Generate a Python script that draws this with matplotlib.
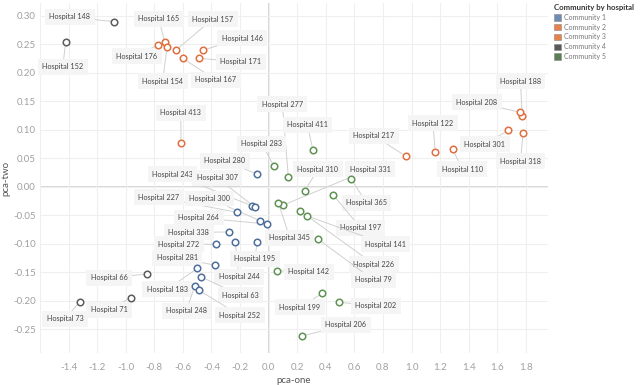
import matplotlib
matplotlib.use("Agg")
import matplotlib.pyplot as plt
import matplotlib.patches as mpatches

plt.rcParams['font.family'] = ['Lato', 'DejaVu Sans']

# ---------------- data ----------------
names_c1 = ["Hospital 280", "Hospital 243", "Hospital 307", "Hospital 227", "Hospital 300",
            "Hospital 264", "Hospital 338", "Hospital 272", "Hospital 244", "Hospital 195",
            "Hospital 281", "Hospital 183", "Hospital 63", "Hospital 248", "Hospital 252"]
x_c1 = [-0.082, -0.114, -0.098, -0.224, -0.061, -0.014, -0.278, -0.369, -0.233, -0.079,
        -0.373, -0.499, -0.471, -0.517, -0.490]
y_c1 = [0.0223, -0.0339, -0.0356, -0.0449, -0.0596, -0.0654, -0.0795, -0.1011, -0.0970, -0.0965,
        -0.1379, -0.1432, -0.1584, -0.1742, -0.1812]

names_c2 = ["Hospital 217", "Hospital 122", "Hospital 110", "Hospital 301", "Hospital 318",
            "Hospital 188", "Hospital 208"]
x_c2 = [0.958, 1.166, 1.287, 1.678, 1.781, 1.774, 1.762]
y_c2 = [0.0539, 0.0614, 0.0661, 0.0989, 0.0947, 0.1240, 0.1305]

names_c3 = ["Hospital 176", "Hospital 165", "Hospital 154", "Hospital 157", "Hospital 167",
            "Hospital 171", "Hospital 146", "Hospital 413"]
x_c3 = [-0.774, -0.727, -0.711, -0.650, -0.601, -0.487, -0.462, -0.613]
y_c3 = [0.2491, 0.2539, 0.2456, 0.2393, 0.2253, 0.2253, 0.2393, 0.0761]

names_c4 = ["Hospital 148", "Hospital 152", "Hospital 66", "Hospital 71", "Hospital 73"]
x_c4 = [-1.082, -1.420, -0.848, -0.965, -1.320]
y_c4 = [0.2895, 0.2539, -0.1532, -0.1947, -0.2018]

names_c5 = ["Hospital 277", "Hospital 411", "Hospital 283", "Hospital 310", "Hospital 331",
            "Hospital 345", "Hospital 365", "Hospital 197", "Hospital 141", "Hospital 226",
            "Hospital 79", "Hospital 142", "Hospital 199", "Hospital 202", "Hospital 206"]
x_c5 = [0.138, 0.310, 0.037, 0.254, 0.103, 0.068, 0.578, 0.452, 0.271, 0.219,
        0.348, 0.056, 0.376, 0.492, 0.236]
y_c5 = [0.0170, 0.0644, 0.0363, -0.0070, -0.0321, -0.0281, 0.0130, -0.0146, -0.0514, -0.0421,
        -0.0923, -0.1474, -0.1870, -0.2028, -0.2619]

communities = ["Community 1", "Community 2", "Community 3", "Community 4", "Community 5"]
x_ticks = [-1.4, -1.2, -1.0, -0.8, -0.6, -0.4, -0.2, 0.0, 0.2, 0.4, 0.6, 0.8, 1.0, 1.2, 1.4, 1.6, 1.8]
y_ticks = [-0.25, -0.20, -0.15, -0.10, -0.05, 0.00, 0.05, 0.10, 0.15, 0.20, 0.25, 0.30]

# ---------------- label placement (pixel offsets from point: right, down) ----------------
label_offsets = {
    "Hospital 280": (-32, -13), "Hospital 243": (-79.7, -32), "Hospital 307": (-37.3, -29),
    "Hospital 227": (-77.7, -15), "Hospital 300": (-50.3, -22), "Hospital 264": (-67.7, -6.3),
    "Hospital 338": (-40, 0.3), "Hospital 272": (-37, -0.3), "Hospital 244": (3.6, 34.7),
    "Hospital 195": (-2.7, 17), "Hospital 281": (-38, -7.6), "Hospital 183": (-30, 21),
    "Hospital 63": (39.3, 18.3), "Hospital 248": (-8.3, 24.7), "Hospital 252": (41, 25.3),
    "Hospital 217": (-31.7, -20.3), "Hospital 122": (-2.4, -28.4), "Hospital 110": (9.7, 20.3),
    "Hospital 301": (-23.7, 13.7), "Hospital 318": (-2.7, 28.3), "Hospital 188": (-1.7, -35),
    "Hospital 208": (-43.7, -10),
    "Hospital 176": (-21.3, 11.3), "Hospital 165": (-6, -23), "Hospital 154": (-4.3, 34.3),
    "Hospital 157": (37, -31.3), "Hospital 167": (33, 21.7), "Hospital 171": (41.7, 3.7),
    "Hospital 146": (39.7, -12.3), "Hospital 413": (-0.3, -30.6),
    "Hospital 148": (-44.3, -4.7), "Hospital 152": (-3, 25), "Hospital 66": (-38.4, 3.7),
    "Hospital 71": (-21.7, 12.3), "Hospital 73": (-15, 17),
    "Hospital 277": (-6, -72.7), "Hospital 411": (-5.6, -25.3), "Hospital 283": (-12.3, -22.3),
    "Hospital 310": (13, -21.4), "Hospital 331": (86.6, -35.7), "Hospital 345": (11.3, 35),
    "Hospital 365": (15.3, 23.4), "Hospital 197": (27.3, 32.7), "Hospital 141": (78.3, 28.3),
    "Hospital 226": (74, 53.6), "Hospital 79": (55, 40.7), "Hospital 142": (32.3, 1),
    "Hospital 199": (-22.4, 14), "Hospital 202": (36.7, 3.7), "Hospital 206": (43.3, -11),
}

point_colors = ["#4e6f9a", "#e0703f", "#e0703f", "#5c5c5c", "#5f9354"]
legend_colors = ["#6f8db3", "#e8804a", "#e8804a", "#595959", "#5a7d55"]

groups = [(names_c1, x_c1, y_c1), (names_c2, x_c2, y_c2), (names_c3, x_c3, y_c3),
          (names_c4, x_c4, y_c4), (names_c5, x_c5, y_c5)]

fig = plt.figure(figsize=(6.4, 3.85), dpi=100)
ax = fig.add_axes([40 / 640, 1 - 353 / 385, 508 / 640, 350 / 385])

ax.set_xlim(-1.6, 1.955)
ax.set_ylim(-0.2918, 0.3223)
ax.set_xticks(x_ticks)
ax.set_yticks(y_ticks)
ax.set_xticklabels([f"{v:.1f}" for v in x_ticks])
ax.set_yticklabels([f"{v:.2f}" for v in y_ticks])
ax.set_xticks([-1.6], minor=True)
ax.grid(True, which='both', color='#efefef', lw=0.8, zorder=0)
ax.axhline(0, color='#d6d6d6', lw=1.4, zorder=0.5)
ax.axvline(0, color='#d6d6d6', lw=1.4, zorder=0.5)
for s in ax.spines.values():
    s.set_visible(False)
ax.tick_params(axis='both', which='both', length=0, labelsize=7, labelcolor='#a0a0a0')
ax.tick_params(axis='x', pad=7)
ax.tick_params(axis='y', pad=3)
ax.set_xlabel("pca-one", fontsize=7, color='#555555', labelpad=3)
ax.set_ylabel("pca-two", fontsize=7, color='#555555')
ax.yaxis.set_label_coords(-0.059, 0.5)

for (names, xs, ys), col in zip(groups, point_colors):
    ax.scatter(xs, ys, s=22, facecolors='white', edgecolors=col, linewidths=1.1, zorder=4)
    for n, xv, yv in zip(names, xs, ys):
        dx, dy = label_offsets[n]
        ax.annotate(n, xy=(xv, yv), xytext=(dx * 0.72, -dy * 0.72), textcoords='offset points',
                    ha='center', va='center', fontsize=5.2, color='#444444',
                    bbox=dict(boxstyle='square,pad=0.6', fc='#f5f5f5', ec='none'),
                    arrowprops=dict(arrowstyle='-', color='#d0d0d0', lw=0.7,
                                    shrinkA=0, shrinkB=2.5),
                    zorder=3)

handles = [mpatches.Patch(facecolor=c, edgecolor='#888888', linewidth=0.4, label=l)
           for c, l in zip(legend_colors, communities)]
leg = fig.legend(handles=handles, loc='upper left', bbox_to_anchor=(554 / 640, 1 - 4 / 385),
                 frameon=False, fontsize=5.0, title="Community by hospital", title_fontsize=5.6,
                 handlelength=1.0, handleheight=1.0, handletextpad=0.5, labelspacing=0.4,
                 borderpad=0, borderaxespad=0, alignment='left')
leg.get_title().set_fontweight('bold')
leg.get_title().set_color('#333333')
for t in leg.get_texts():
    t.set_color('#777777')

fig.savefig("out.png", dpi=100)
